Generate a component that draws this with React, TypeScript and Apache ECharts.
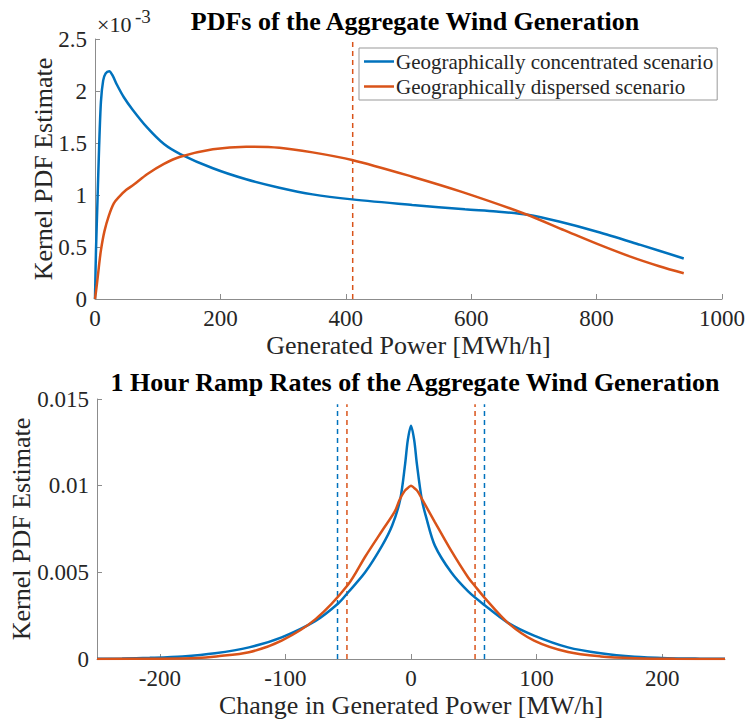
import React, { useEffect, useRef } from "react";
import * as echarts from "echarts";

// ---------- Data ----------
// Top panel: generated power [MWh/h] vs kernel PDF (values in units of 1e-3)
const topBlueX = [0, 1.6, 4, 6.5, 9.5, 13, 17, 22.7, 28, 35, 46, 60, 83, 110, 136, 188, 241, 294, 347, 410, 506, 590, 640, 690, 740, 801, 870, 939];
const topBlueY = [0, 0.47, 0.95, 1.45, 1.9, 2.1, 2.17, 2.19, 2.15, 2.06, 1.94, 1.82, 1.65, 1.49, 1.394, 1.257, 1.151, 1.07, 1.006, 0.958, 0.904, 0.862, 0.842, 0.81, 0.745, 0.647, 0.52, 0.39];
const topOrangeX = [0, 3, 6, 9.5, 15, 22, 30, 38, 50, 62, 83, 110, 136, 188, 241, 294, 347, 410, 506, 585, 685, 749, 801, 855, 900, 939];
const topOrangeY = [0, 0.14, 0.3, 0.47, 0.65, 0.8, 0.92, 0.98, 1.05, 1.1, 1.2, 1.3, 1.368, 1.44, 1.465, 1.455, 1.41, 1.337, 1.176, 1.03, 0.82, 0.66, 0.53, 0.405, 0.315, 0.247];
const topDashed = [411];

// Bottom panel: change in generated power [MW/h] vs kernel PDF
const botBlueX = [-250, -230, -208, -182, -156, -129, -103, -76, -58, -50, -36.5, -23, -15, -8.6, -4.6, -2.6, 0, 2.6, 4.6, 8.6, 12, 19, 32, 45.5, 58.7, 77, 98, 125, 151, 178, 204, 230, 250];
const botBlueY = [0.00001, 0.00003, 0.00007, 0.00015, 0.00033, 0.00067, 0.00125, 0.0022, 0.0032, 0.00385, 0.005, 0.00654, 0.0077, 0.0092, 0.0113, 0.0126, 0.01346, 0.0126, 0.0113, 0.0092, 0.0082, 0.00654, 0.005, 0.0039, 0.0031, 0.0021, 0.00135, 0.00067, 0.00033, 0.00013, 0.00005, 0.00002, 0.00001];
const botOrangeX = [-250, -200, -170, -155, -129, -103, -76, -50, -36.5, -23, -13, -9, -5, -2, 0, 2, 5, 9, 19, 32, 45.5, 51, 59, 77, 98, 125, 151, 178, 210, 250];
const botOrangeY = [0.000005, 0.00002, 0.00006, 0.00015, 0.00039, 0.00106, 0.0023, 0.0043, 0.0059, 0.0074, 0.0085, 0.0092, 0.0097, 0.0099, 0.01, 0.0099, 0.0097, 0.0092, 0.0079, 0.00625, 0.0047, 0.0042, 0.0035, 0.0021, 0.00106, 0.0004, 0.00015, 0.00005, 0.00001, 0.000003];
const botDashedBlue = [-58.5, 58.5];
const botDashedOrange = [-51, 51];
const botDashedTop = 0.0147;

const topXTicks = [0, 200, 400, 600, 800, 1000];
const topYTicks = [0, 0.5, 1, 1.5, 2, 2.5];
const botXTicks = [-200, -100, 0, 100, 200];
const botYTicks = [0, 0.005, 0.01, 0.015];

const seriesNames = ["Geographically concentrated scenario", "Geographically dispersed scenario"];
const titles = ["PDFs of the Aggregate Wind Generation", "1 Hour Ramp Rates of the Aggregate Wind Generation"];
const xNames = ["Generated Power [MWh/h]", "Change in Generated Power [MW/h]"];
const yName = "Kernel PDF Estimate";
const exponentBase = "×10";
const exponentPow = "-3";

const BLUE = "#0072BD";
const ORANGE = "#D95319";
const FONT = "Liberation Serif";
const AXIS = "#8c8c8c";
const TXT = "#262626";

const zip = (xs: number[], ys: number[]) => xs.map((x, i) => [x, ys[i]]);

export default function App() {
  const ref = useRef<HTMLDivElement>(null);
  useEffect(() => {
    if (!ref.current) return;
    const chart = echarts.init(ref.current, null, { renderer: "svg" });

    const axisCommon = {
      axisLine: { show: true, onZero: false, lineStyle: { color: AXIS, width: 1 } },
      axisTick: { show: true, inside: true, length: 5, lineStyle: { color: AXIS } },
      splitLine: { show: false },
      axisLabel: { color: TXT, fontFamily: FONT, fontSize: 23, margin: 8 },
      nameTextStyle: { color: TXT, fontFamily: FONT, fontSize: 26 },
      nameLocation: "middle" as const,
      nameMoveOverlap: false,
    };

    const dashed = (xi: number, x: number, yTop: number, color: string) => ({
      type: "line",
      xAxisIndex: xi,
      yAxisIndex: xi,
      data: [[x, 0], [x, yTop]],
      symbol: "none",
      silent: true,
      lineStyle: { color, width: 1.5, type: [5, 4] },
      z: 1,
    });

    const curve = (name: string, xi: number, xs: number[], ys: number[], color: string) => ({
      name,
      type: "line",
      xAxisIndex: xi,
      yAxisIndex: xi,
      data: zip(xs, ys),
      symbol: "none",
      smooth: 0.3,
      lineStyle: { color, width: 2.5 },
      itemStyle: { color },
      z: 3,
    });

    const titleStyle = { fontFamily: FONT, fontWeight: "bold", fontSize: 26, color: "#000" };

    const option: any = {
      animation: false,
      backgroundColor: "#ffffff",
      title: [
        { text: titles[0], left: 410, top: 3, textAlign: "center", textStyle: titleStyle },
        { text: titles[1], left: 410, top: 364, textAlign: "center", textStyle: titleStyle },
      ],
      grid: [
        { left: 95, top: 39, width: 630, height: 260 },
        { left: 95, top: 399, width: 630, height: 260 },
      ],
      xAxis: [
        {
          ...axisCommon, gridIndex: 0, type: "value", min: 0, max: 1000, interval: 200,
          axisLabel: { ...axisCommon.axisLabel, customValues: topXTicks, formatter: (v: number) => String(v) },
          axisTick: { ...axisCommon.axisTick, customValues: topXTicks },
          name: xNames[0], nameGap: 33,
        },
        {
          ...axisCommon, gridIndex: 1, type: "value", min: -250, max: 250,
          axisLabel: { ...axisCommon.axisLabel, customValues: botXTicks, formatter: (v: number) => String(v) },
          axisTick: { ...axisCommon.axisTick, customValues: botXTicks },
          name: xNames[1], nameGap: 33,
        },
      ],
      yAxis: [
        {
          ...axisCommon, gridIndex: 0, type: "value", min: 0, max: 2.5, interval: 0.5,
          axisLabel: { ...axisCommon.axisLabel, customValues: topYTicks, formatter: (v: number) => String(v) },
          axisTick: { ...axisCommon.axisTick, customValues: topYTicks },
          name: yName, nameGap: 39,
        },
        {
          ...axisCommon, gridIndex: 1, type: "value", min: 0, max: 0.015,
          axisLabel: { ...axisCommon.axisLabel, customValues: botYTicks, formatter: (v: number) => String(Number(v.toFixed(3))) },
          axisTick: { ...axisCommon.axisTick, customValues: botYTicks },
          name: yName, nameGap: 63,
        },
      ],
      legend: {
        data: seriesNames,
        orient: "vertical",
        left: 359,
        top: 48,
        icon: "rect",
        itemWidth: 30,
        itemHeight: 2.5,
        itemGap: 4,
        padding: [3, 4, 3, 5],
        borderColor: "#999",
        borderWidth: 1,
        borderRadius: 0,
        backgroundColor: "#fff",
        textStyle: { fontFamily: FONT, fontSize: 21, color: TXT, padding: [0, 0, 0, -3] },
      },
      graphic: [
        { type: "text", left: 97, top: 13, style: { text: exponentBase, fontFamily: FONT, fontSize: 22, fill: TXT } },
        { type: "text", left: 135, top: 7, style: { text: exponentPow, fontFamily: FONT, fontSize: 19, fill: TXT } },
      ],
      series: [
        dashed(0, topDashed[0], 2.5, ORANGE),
        dashed(1, botDashedBlue[0], botDashedTop, BLUE),
        dashed(1, botDashedBlue[1], botDashedTop, BLUE),
        dashed(1, botDashedOrange[0], botDashedTop, ORANGE),
        dashed(1, botDashedOrange[1], botDashedTop, ORANGE),
        curve(seriesNames[0], 0, topBlueX, topBlueY, BLUE),
        curve(seriesNames[1], 0, topOrangeX, topOrangeY, ORANGE),
        curve("ramp-concentrated", 1, botBlueX, botBlueY, BLUE),
        curve("ramp-dispersed", 1, botOrangeX, botOrangeY, ORANGE),
      ],
    };
    chart.setOption(option);
    return () => chart.dispose();
  }, []);
  return <div ref={ref} style={{ position: "fixed", left: 0, top: 0, width: 748, height: 723 }} />;
}
